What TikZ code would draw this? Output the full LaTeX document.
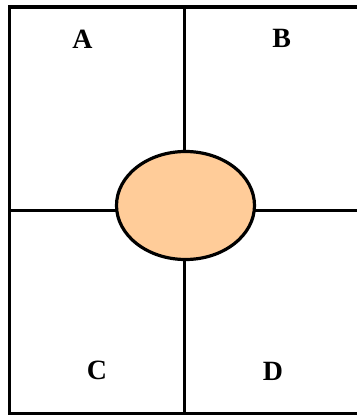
\documentclass[tikz,border=0pt]{standalone}
\usepackage{fontspec}
\setmainfont{Liberation Serif}
\usetikzlibrary{shapes.geometric}
\definecolor{peach}{HTML}{FFCC99}
\begin{document}
\begin{tikzpicture}[x=1bp,y=1bp,
  wall/.style={line width=3.2bp},
  lbl/.style={font=\fontsize{28}{30}\selectfont\bfseries, inner sep=0pt},
  blob/.style={ellipse, draw, line width=3.2bp, fill=peach, minimum width=138bp, minimum height=108bp, inner sep=0pt}]
\useasboundingbox (0,0) rectangle (357,415);
\clip (0,0) rectangle (357,415);
\coordinate (tl) at (9.3,408);
\coordinate (bl) at (9.3,1.5);
\coordinate (tr) at (370,408);
\coordinate (br) at (370,1.5);
\coordinate (vt) at (184.7,408);
\coordinate (vb) at (184.7,1.5);
\coordinate (hl) at (9.3,204.3);
\coordinate (hr) at (370,204.3);
\draw[wall] (tr) -- (tl) -- (bl) -- (br);
\draw[wall] (vt) -- (vb);
\draw[wall] (hl) -- (hr);
\node[blob] (e) at (185.5,209.5) {};
\node[lbl] (a) at (82.5,376) {A};
\node[lbl] (b) at (281.7,377) {B};
\node[lbl] (c) at (97,45) {C};
\node[lbl] (d) at (273,44) {D};
\end{tikzpicture}
\end{document}
